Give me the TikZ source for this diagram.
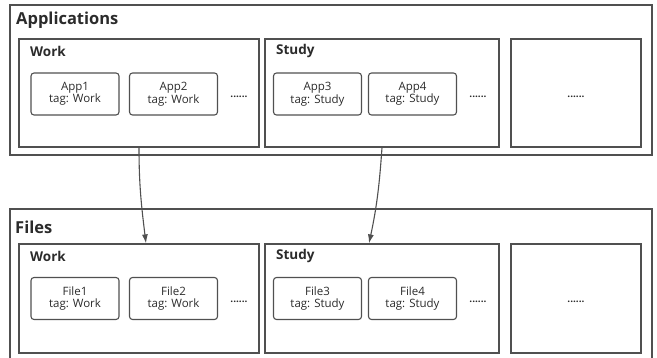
\documentclass[tikz,border=0pt]{standalone}
\usepackage{fontspec}
\setmainfont{Open Sans}
\usetikzlibrary{arrows.meta}
\definecolor{boxline}{HTML}{505050}
\definecolor{txt}{HTML}{2b2b2b}

\begin{document}
\begin{tikzpicture}[x=1pt,y=-1pt,
  group/.style={draw=boxline,line width=1.2pt,minimum width=642pt,inner sep=0pt},
  cat/.style={draw=boxline,line width=1.2pt,minimum height=108pt,inner sep=0pt},
  item/.style={draw=boxline,line width=1.1pt,rounded corners=3pt,minimum width=88pt,minimum height=42pt,
    inner sep=0pt,align=center,font=\fontsize{11.5}{12.5}\selectfont,text=txt},
  title/.style={anchor=west,inner sep=0pt,font=\fontsize{16.5}{18}\selectfont\bfseries,text=txt},
  catlabel/.style={anchor=west,inner sep=0pt,font=\fontsize{13.5}{15}\selectfont\bfseries,text=txt},
  more/.style={inner sep=0pt,font=\fontsize{10}{11}\selectfont\bfseries,text=txt},
  link/.style={-{Latex[length=9pt,width=6pt]},line width=1.1pt,draw=boxline}]
  \useasboundingbox (0,0) rectangle (657,358);
  \clip (0,0) rectangle (657,358);

  % Applications
  \node[group,minimum height=150pt] (apps) at (331,80) {};
  \node[title] (appsT) at (16,20) {Applications};
  \node[cat,minimum width=240pt] (aWork) at (139,93) {};
  \node[cat,minimum width=234pt] (aStudy) at (382,93) {};
  \node[cat,minimum width=130pt] (aMore) at (576,93) {};
  \node[catlabel] (aWorkT) at (30,51) {Work};
  \node[catlabel] (aStudyT) at (276,51) {Study};
  \node[item] (app1) at (75,94) {App1\\tag: Work};
  \node[item] (app2) at (173.5,94) {App2\\tag: Work};
  \node[item] (app3) at (317.5,94) {App3\\tag: Study};
  \node[item] (app4) at (412.5,94) {App4\\tag: Study};
  \node[more] (aDots1) at (239,97) {......};
  \node[more] (aDots2) at (478,97) {......};
  \node[more] (aDots3) at (576,97) {......};

  % Files
  \node[group,minimum height=162pt] (files) at (331,290) {};
  \node[title] (filesT) at (15,227) {Files};
  \node[cat,minimum width=240pt,minimum height=109pt] (fWork) at (139,298.5) {};
  \node[cat,minimum width=234pt,minimum height=109pt] (fStudy) at (382,298.5) {};
  \node[cat,minimum width=130pt,minimum height=109pt] (fMore) at (576,298.5) {};
  \node[catlabel] (fWorkT) at (30,256) {Work};
  \node[catlabel] (fStudyT) at (276,256) {Study};
  \node[item] (file1) at (75,298.5) {File1\\tag: Work};
  \node[item] (file2) at (173.5,298.5) {File2\\tag: Work};
  \node[item] (file3) at (317.5,298.5) {File3\\tag: Study};
  \node[item] (file4) at (412.5,298.5) {File4\\tag: Study};
  \node[more] (fDots1) at (239,302) {......};
  \node[more] (fDots2) at (478,302) {......};
  \node[more] (fDots3) at (576,302) {......};

  % links
  \draw[link] (aWork.south) to[out=-90,in=97] ([xshift=7pt]fWork.north);
  \draw[link] (aStudy.south) to[out=-94,in=78] ([xshift=-13pt]fStudy.north);
\end{tikzpicture}
\end{document}
